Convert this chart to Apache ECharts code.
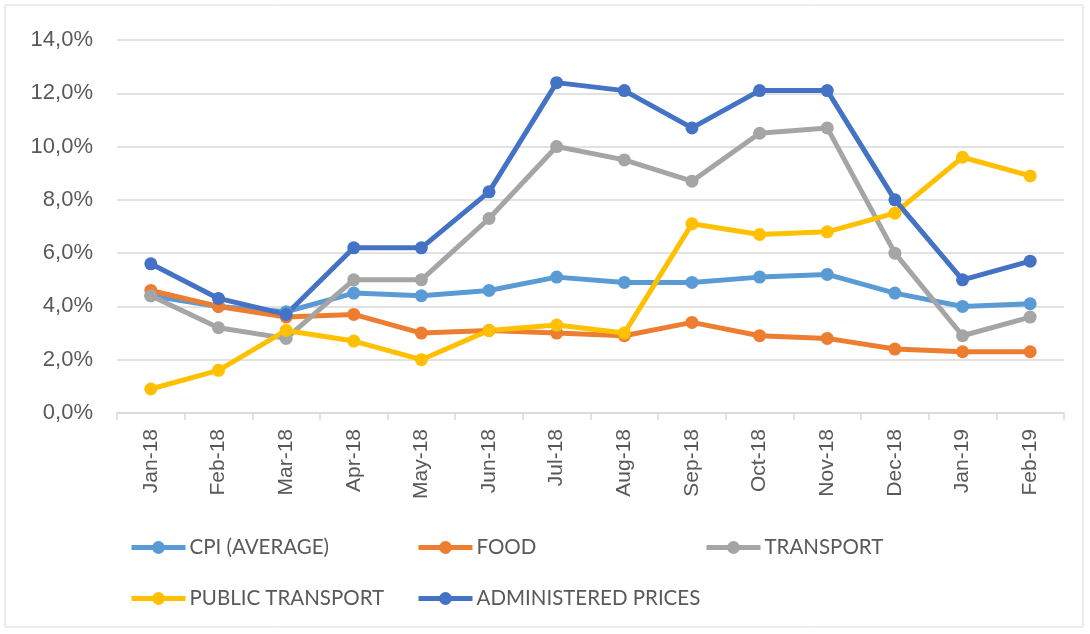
<!DOCTYPE html>
<html>
<head>
<meta charset="utf-8">
<script src="https://cdn.jsdelivr.net/npm/echarts@6/dist/echarts.min.js"></script>
<style>
  html, body { margin: 0; padding: 0; background: #fff; }
  #chart { width: 1090px; height: 634px; }
</style>
</head>
<body>
<div id="chart"></div>
<script>
// months on the x axis
var months = ['Jan-18', 'Feb-18', 'Mar-18', 'Apr-18', 'May-18', 'Jun-18', 'Jul-18',
              'Aug-18', 'Sep-18', 'Oct-18', 'Nov-18', 'Dec-18', 'Jan-19', 'Feb-19'];

// values in percent
var cpiAvg    = [4.4, 4.0, 3.8, 4.5, 4.4, 4.6, 5.1, 4.9, 4.9, 5.1, 5.2, 4.5, 4.0, 4.1];
var food      = [4.6, 4.0, 3.6, 3.7, 3.0, 3.1, 3.0, 2.9, 3.4, 2.9, 2.8, 2.4, 2.3, 2.3];
var transport = [4.4, 3.2, 2.8, 5.0, 5.0, 7.3, 10.0, 9.5, 8.7, 10.5, 10.7, 6.0, 2.9, 3.6];
var publicTr  = [0.9, 1.6, 3.1, 2.7, 2.0, 3.1, 3.3, 3.0, 7.1, 6.7, 6.8, 7.5, 9.6, 8.9];
var adminPr   = [5.6, 4.3, 3.7, 6.2, 6.2, 8.3, 12.4, 12.1, 10.7, 12.1, 12.1, 8.0, 5.0, 5.7];

var yTicks = [0, 2, 4, 6, 8, 10, 12, 14];

var chart = echarts.init(document.getElementById('chart'));

function line(name, color, data) {
  return {
    name: name,
    type: 'line',
    data: data,
    symbol: 'circle',
    symbolSize: 13,
    lineStyle: { width: 5, color: color },
    itemStyle: { color: color },
    emphasis: { disabled: true },
    animation: false
  };
}

// one legend per item, placed like the original two-row layout
function legendAt(name, left, top) {
  return {
    data: [name],
    left: left,
    top: top,
    padding: 0,
    itemWidth: 54,
    itemHeight: 16,
    itemGap: 4,
    lineStyle: { width: 5 },
    textStyle: { fontFamily: 'Lato', fontSize: 20.5, color: '#595959', padding: [0, 0, 0, -1] }
  };
}

var option = {
  backgroundColor: '#fff',
  animation: false,
  graphic: [{
    type: 'rect',
    shape: { x: 5, y: 5, width: 1078, height: 622 },
    style: { fill: 'none', stroke: '#d9d9d9', lineWidth: 1 }
  }],
  legend: [
    legendAt('CPI (AVERAGE)', 129, 537),
    legendAt('FOOD', 416, 537),
    legendAt('TRANSPORT', 704, 537),
    legendAt('PUBLIC TRANSPORT', 129, 588),
    legendAt('ADMINISTERED PRICES', 416, 588)
  ],
  grid: { left: 117, right: 26, top: 40, bottom: 221 },
  xAxis: {
    type: 'category',
    data: months,
    boundaryGap: true,
    axisLine: { lineStyle: { color: '#d9d9d9', width: 1.5 } },
    axisTick: { show: true, length: 7, lineStyle: { color: '#d9d9d9', width: 1.5 } },
    axisLabel: { rotate: 90, margin: 16, fontFamily: 'Liberation Sans', fontSize: 21, color: '#595959' }
  },
  yAxis: {
    type: 'value',
    min: yTicks[0],
    max: yTicks[yTicks.length - 1],
    interval: 2,
    axisLine: { show: false },
    axisTick: { show: false },
    splitLine: { lineStyle: { color: '#d9d9d9', width: 1.5 } },
    axisLabel: {
      margin: 24,
      fontFamily: 'Liberation Sans',
      fontSize: 22,
      color: '#595959',
      formatter: function (v) { return v.toFixed(1).replace('.', ',') + '%'; }
    }
  },
  series: [
    line('CPI (AVERAGE)', '#5b9bd5', cpiAvg),
    line('FOOD', '#ed7d31', food),
    line('TRANSPORT', '#a5a5a5', transport),
    line('PUBLIC TRANSPORT', '#ffc000', publicTr),
    line('ADMINISTERED PRICES', '#4472c4', adminPr)
  ]
};

chart.setOption(option);
</script>
</body>
</html>
